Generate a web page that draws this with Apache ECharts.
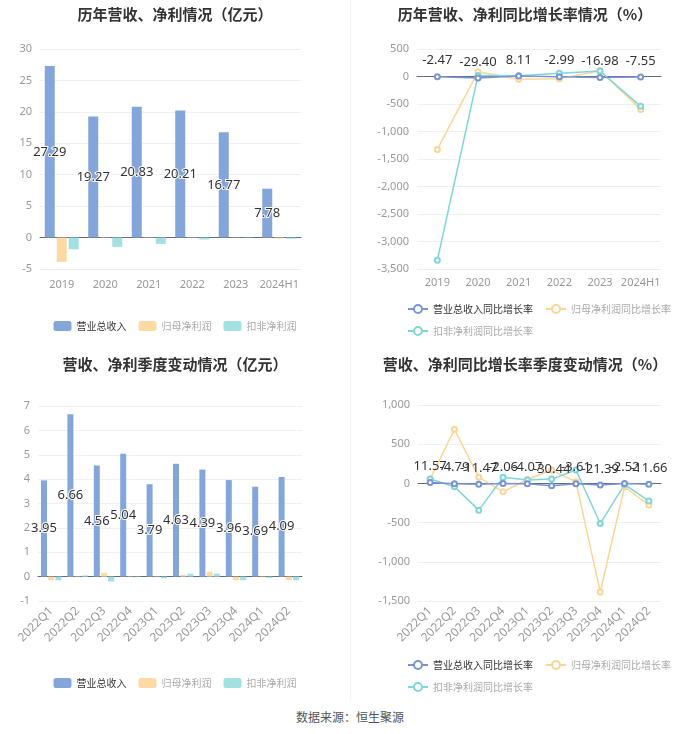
<!DOCTYPE html>
<html><head><meta charset="utf-8">
<script src="https://cdn.jsdelivr.net/npm/echarts@6/dist/echarts.min.js"></script>
<style>
html,body{margin:0;padding:0;background:#fff;font-family:"Noto Sans CJK SC","Noto Sans",sans-serif;}
#wrap{position:relative;width:700px;height:734px;}
.c{position:absolute;}
#div{position:absolute;left:350px;top:0;width:1px;height:700px;background:#f2f2f2;}
#foot{position:absolute;left:0;top:708px;width:700px;text-align:center;font-size:12px;color:#555;}
</style></head>
<body><div id="wrap">
<div id="c1" class="c" style="left:0;top:0;width:350px;height:345px"></div>
<div id="c2" class="c" style="left:350px;top:0;width:350px;height:345px"></div>
<div id="c3" class="c" style="left:0;top:350px;width:350px;height:350px"></div>
<div id="c4" class="c" style="left:350px;top:350px;width:350px;height:350px"></div>
<div id="div"></div>
<div id="foot">数据来源：恒生聚源</div>
</div>
<script>
// ---- data ----
const yearCats = ['2019','2020','2021','2022','2023','2024H1'];
const yearRevenue = [27.29, 19.27, 20.83, 20.21, 16.77, 7.78];
const yearNetProfit = [-3.86, -0.05, -0.05, -0.05, -0.04, -0.15];
const yearDeducted = [-1.86, -1.48, -1.0, -0.3, -0.05, -0.2];

const yearRevenueGrowth = [-2.47, -29.40, 8.11, -2.99, -16.98, -7.55];
const yearNetGrowth = [-1326, 88, -51, -40, 106, -598];
const yearDeductedGrowth = [-3341, 20, 15, 58, 100, -543];

const quarterCats = ['2022Q1','2022Q2','2022Q3','2022Q4','2023Q1','2023Q2','2023Q3','2023Q4','2024Q1','2024Q2'];
const qRevenue = [3.95, 6.66, 4.56, 5.04, 3.79, 4.63, 4.39, 3.96, 3.69, 4.09];
const qNetProfit = [-0.15, -0.02, 0.15, -0.02, -0.02, 0.07, 0.2, -0.15, -0.03, -0.15];
const qDeducted = [-0.15, 0.05, -0.2, -0.02, -0.07, 0.12, 0.12, -0.15, -0.06, -0.15];

const qRevenueGrowth = [11.57, -4.79, -11.47, -2.06, -4.07, -30.44, -3.61, -21.39, -2.52, -11.66];
const qNetGrowth = [55, 690, 77, -107, 50, 170, 20, -1386, -43, -277];
const qDeductedGrowth = [55, -43, -341, 77, 42, 55, 170, -512, -13, -226];

// ---- styles ----
const BLUE = '#84a5d9', ORANGE = '#fdd9a4', CYAN = '#a2e0e1';
const LBLUE = '#7895d2', LORANGE = '#fcd596', LCYAN = '#7fd6d8';
const titleStyle = {fontSize:15, fontWeight:'bold', color:'#333', fontFamily:'Noto Sans CJK SC'};
const axisLabel = {color:'#999', fontSize:11, fontFamily:'Noto Sans'};
const splitLine = {lineStyle:{color:'#eef0f4'}};
const legendText = {fontSize:10, color:'#aaa', fontFamily:'Noto Sans CJK SC'};

function barOption(title, cats, rev, net, ded, grid, yMin, yMax, yInt, barW, rotate, legendTop){
  return {
    animation:false,
    title:{text:title, left:'center', top:2, textStyle:titleStyle},
    legend:{top:legendTop, left:'center', itemWidth:18, itemHeight:10, itemGap:12, textStyle:legendText,
      data:[{name:'营业总收入', textStyle:{color:'#333'}}, {name:'归母净利润'}, {name:'扣非净利润'}]},
    grid:grid,
    xAxis:{type:'category', data:cats,
      axisLine:{lineStyle:{color:'#5f6b80'}},
      axisTick:{alignWithLabel:true, length:4, lineStyle:{color:'#5f6b80'}},
      axisLabel:Object.assign({}, axisLabel, {rotate:rotate, interval:0, fontSize: rotate ? 12 : 11, margin:rotate? 8 : 10})},
    yAxis:{type:'value', min:yMin, max:yMax, interval:yInt, axisLabel:axisLabel, splitLine:splitLine},
    series:[
      {name:'营业总收入', type:'bar', data:rev, barWidth:barW, barGap:'20%', itemStyle:{color:BLUE},
        label:{show:true, position:'inside', color:'#333', fontSize:13, textBorderColor:'#fff', textBorderWidth:2, fontFamily:'Noto Sans'}},
      {name:'归母净利润', type:'bar', data:net, barWidth:barW, barGap:'20%', itemStyle:{color:ORANGE}},
      {name:'扣非净利润', type:'bar', data:ded, barWidth:barW, barGap:'20%', itemStyle:{color:CYAN}}
    ]
  };
}

function lineOption(title, cats, rev, net, ded, grid, yMin, yMax, yInt, rotate, legendTop){
  const mk = (name, data, color, lbl) => ({
    name:name, type:'line', data:data, symbol:'emptyCircle', symbolSize:5,
    lineStyle:{color:color, width:1.5}, itemStyle:{color:color},
    label: lbl ? {show:true, position:'top', color:'#333', fontSize:13, fontFamily:'Noto Sans', distance:6,
      formatter: p => p.value.toFixed(2)} : {show:false},
    z: lbl ? 5 : 2
  });
  return {
    animation:false,
    title:{text:title, left:'center', top:2, textStyle:titleStyle},
    legend:{top:legendTop, left:52, width:270, itemWidth:20, itemHeight:10, itemGap:12, textStyle:legendText,
      data:[{name:'营业总收入同比增长率', textStyle:{color:'#333'}}, {name:'归母净利润同比增长率'}, {name:'扣非净利润同比增长率'}]},
    grid:grid,
    xAxis:{type:'category', data:cats, boundaryGap:true,
      axisLine:{lineStyle:{color:'#5f6b80'}},
      axisTick:{show:false},
      axisLabel:Object.assign({}, axisLabel, {rotate:rotate, interval:0, fontSize: rotate ? 12 : 11})},
    yAxis:{type:'value', min:yMin, max:yMax, interval:yInt, axisLabel:axisLabel, splitLine:splitLine},
    series:[
      mk('归母净利润同比增长率', net, LORANGE, false),
      mk('扣非净利润同比增长率', ded, LCYAN, false),
      mk('营业总收入同比增长率', rev, LBLUE, true)
    ]
  };
}

echarts.init(document.getElementById('c1')).setOption(
  barOption('历年营收、净利情况（亿元）', yearCats, yearRevenue, yearNetProfit, yearDeducted,
    {left:40, right:49, top:49, bottom:76}, -5, 30, 5, 10, 0, 316));
echarts.init(document.getElementById('c2')).setOption(
  lineOption('历年营收、净利同比增长率情况（%）', yearCats, yearRevenueGrowth, yearNetGrowth, yearDeductedGrowth,
    {left:67, right:39, top:49, bottom:76}, -3500, 500, 500, 0, 299));
echarts.init(document.getElementById('c3')).setOption(
  barOption('营收、净利季度变动情况（亿元）', quarterCats, qRevenue, qNetProfit, qDeducted,
    {left:38, right:48, top:56, bottom:99}, -1, 7, 1, 6, 45, 323));
echarts.init(document.getElementById('c4')).setOption(
  lineOption('营收、净利同比增长率季度变动情况（%）', quarterCats, qRevenueGrowth, qNetGrowth, qDeductedGrowth,
    {left:68, right:39, top:55, bottom:99}, -1500, 1000, 500, 45, 305));
</script>
</body></html>
